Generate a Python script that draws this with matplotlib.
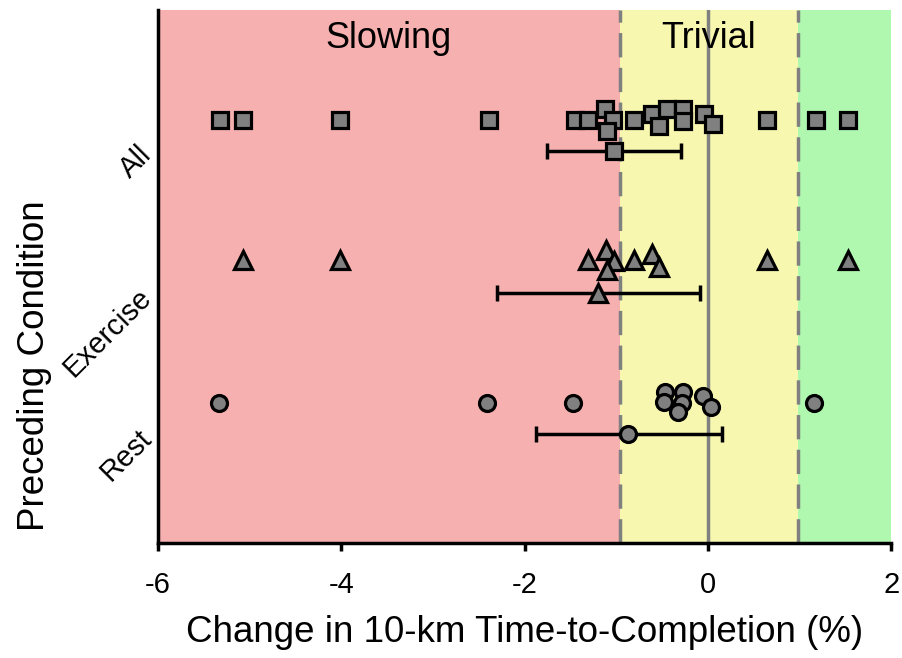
import matplotlib
matplotlib.use("Agg")
import matplotlib.pyplot as plt

plt.rcParams['font.family'] = ['Liberation Sans', 'DejaVu Sans']

# ---- data ----
categories = ["Rest", "Exercise", "All"]
cat_pos = [0.765, 1.765, 2.765]

all_x = [-5.32, -5.07, -4.02, -2.39, -1.45, -1.31, -1.12, -1.04, -1.10, -0.81,
         -0.61, -0.45, -0.53, -0.27, -0.27, -0.04, 0.05, 0.64, 1.18, 1.53]
all_y = [2.986, 2.986, 2.986, 2.986, 2.986, 2.986, 3.063, 2.986, 2.908, 2.986,
         3.028, 3.063, 2.944, 3.063, 2.974, 3.028, 2.958, 2.986, 2.986, 2.986]

ex_x = [-5.07, -4.02, -1.31, -1.11, -1.03, -1.10, -0.81, -0.61, -0.53, 0.64, 1.53]
ex_y = [1.993, 1.993, 1.993, 2.063, 1.986, 1.923, 1.993, 2.035, 1.944, 1.993, 1.993]

rest_x = [-5.33, -2.41, -1.47, -0.47, -0.48, -0.27, -0.28, -0.33, -0.05, 0.03, 1.16]
rest_y = [0.988, 0.988, 0.988, 1.065, 0.995, 1.065, 0.988, 0.920, 1.035, 0.956, 0.988]

means = [-0.87, -1.20, -1.03]          # Rest, Exercise, All
ci_low = [-1.88, -2.30, -1.76]
ci_high = [0.15, -0.09, -0.29]
markers = ["o", "^", "s"]

trivial_low, trivial_high = -0.965, 0.98
xmin, xmax = -6, 2

fig = plt.figure(figsize=(9.03, 6.58), dpi=100)
ax = fig.add_axes([0.175, 0.175, 0.812, 0.810])

ax.axvspan(xmin, trivial_low, color="#F7B0B0", lw=0, zorder=0)
ax.axvspan(trivial_low, trivial_high, color="#F8F7B0", lw=0, zorder=0)
ax.axvspan(trivial_high, xmax, color="#B0F8B0", lw=0, zorder=0)
ax.axvline(0, color="#808080", lw=2.5, zorder=1)
for xv in (trivial_low, trivial_high):
    ax.axvline(xv, color="#808080", lw=2.5, ls=(0, (7, 3)), zorder=1)

mk = dict(mfc="#808080", mec="black", mew=2.3, ls="none", zorder=3)
ax.plot(all_x, all_y, marker="s", ms=11.5, **mk)
ax.plot(ex_x, ex_y, marker="^", ms=12.5, **mk)
ax.plot(rest_x, rest_y, marker="o", ms=11.5, **mk)

for m, lo, hi, yv, mkr in zip(means, ci_low, ci_high, cat_pos, markers):
    ax.errorbar([m], [yv], xerr=[[m - lo], [hi - m]], fmt="none", ecolor="black",
                elinewidth=2.5, capsize=6, capthick=2.5, zorder=2)
    ax.plot([m], [yv], marker=mkr, ms=12.5 if mkr == "^" else 11.5, **mk)

ax.text((xmin + trivial_low) / 2, 3.56, "Slowing", ha="center", va="center", fontsize=26)
ax.text((trivial_low + trivial_high) / 2, 3.56, "Trivial", ha="center", va="center", fontsize=26)

ax.set_xlim(xmin, xmax)
ax.set_ylim(0, 3.76)
ax.set_xticks([-6, -4, -2, 0, 2])
ax.set_xticklabels(["-6", "-4", "-2", "0", "2"])
ax.set_yticks(cat_pos)
ax.set_yticklabels(categories, rotation=45, ha="right", va="center", rotation_mode="anchor")
ax.tick_params(axis="x", labelsize=21, width=2.5, length=6, pad=14)
ax.tick_params(axis="y", labelsize=21, length=0, pad=8)

for s in ("top", "right"):
    ax.spines[s].set_visible(False)
for s in ("left", "bottom"):
    ax.spines[s].set_linewidth(2.5)

ax.set_xlabel("Change in 10-km Time-to-Completion (%)", fontsize=26.5, labelpad=12)
ax.set_ylabel("Preceding Condition", fontsize=26.5)
ax.yaxis.set_label_coords(-0.145, 0.332)

fig.savefig("out.png", dpi=100)
